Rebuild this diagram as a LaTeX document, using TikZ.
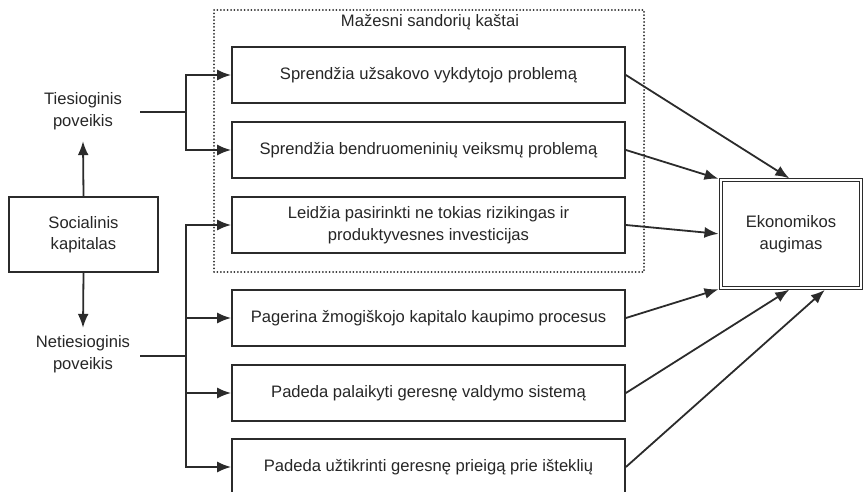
\documentclass[tikz,border=0pt]{standalone}
\usepackage{fontspec}
\setmainfont{Liberation Sans}
\usetikzlibrary{arrows.meta,calc}
\definecolor{ln}{HTML}{2B2B2B}
\definecolor{tx}{HTML}{262626}
\begin{document}
\begin{tikzpicture}[x=1pt,y=-1pt,
  txt/.style={font=\fontsize{16.6}{21.5}\selectfont, text=tx, align=center},
  box/.style={txt, draw=ln, line width=1.8pt, minimum width=393pt, minimum height=56pt, inner sep=0pt},
  arr/.style={draw=ln, line width=1.8pt, -{Latex[length=14pt,width=11pt]}},
  conn/.style={draw=ln, line width=1.8pt},
  grp/.style={draw=ln, line width=2pt, line cap=round, dash pattern=on 0pt off 3.4pt, minimum width=430pt, minimum height=262pt, inner sep=0pt}
]
\useasboundingbox (0,0) rectangle (865,492);
% group frame
\node[grp] (grp) at (429,141) {};
\node[txt] (title) at (430,22) {Mažesni sandorių kaštai};
% boxes
\node[box] (b1) at (428.5,75) {Sprendžia užsakovo vykdytojo problemą};
\node[box] (b2) at (428.5,150) {Sprendžia bendruomeninių veiksmų problemą};
\node[box] (b3) at (428.5,225) {Leidžia pasirinkti ne tokias rizikingas ir\\produktyvesnes investicijas};
\node[box] (b4) at (428.5,318) {Pagerina žmogiškojo kapitalo kaupimo procesus};
\node[box] (b5) at (428.5,393) {Padeda palaikyti geresnę valdymo sistemą};
\node[box] (b6) at (428.5,467) {Padeda užtikrinti geresnę prieigą prie išteklių};
% left part
\node[box, minimum width=149pt, minimum height=75pt] (soc) at (83.5,234.5) {Socialinis\\kapitalas};
\node[txt, inner sep=0pt, minimum height=60pt] (tie) at (83,111) {Tiesioginis\\poveikis};
\node[txt, inner sep=0pt, minimum height=52pt] (net) at (83,354) {Netiesioginis\\poveikis};
\draw[arr] (soc.north) -- (tie.south);
\draw[arr] (soc.south) -- (net.north);
% right target
\node[txt, draw=ln, double=white, double distance=2pt, line width=1.2pt, minimum width=140pt, minimum height=108pt, inner sep=0pt] (eko) at (791,234) {Ekonomikos\\augimas};
% junctions
\coordinate (t0) at (140,112);
\coordinate (j1) at (186,112);
\coordinate (n0) at (140,356);
\coordinate (j2) at (186,356);
\draw[conn] (t0) -- (j1);
\draw[arr] (j1) |- (b1.west);
\draw[arr] (j1) |- (b2.west);
\draw[conn] (n0) -- (j2);
\draw[arr] (j2) |- (b3.west);
\draw[arr] (j2) |- (b4.west);
\draw[arr] (j2) |- (b5.west);
\draw[arr] (j2) |- (b6.west);
% to target
\draw[arr, shorten >=2pt] (b1.east) -- (eko.north);
\draw[arr, shorten >=2pt] (b2.east) -- (eko.north west);
\draw[arr, shorten >=2pt] (b3.east) -- (eko.west);
\draw[arr, shorten >=2pt] (b4.east) -- (eko.south west);
\draw[arr, shorten >=2pt] (b5.east) -- (eko.south);
\draw[arr, shorten >=2pt] (b6.east) -- ($(eko.south)!0.5!(eko.south east)$);
\end{tikzpicture}
\end{document}
